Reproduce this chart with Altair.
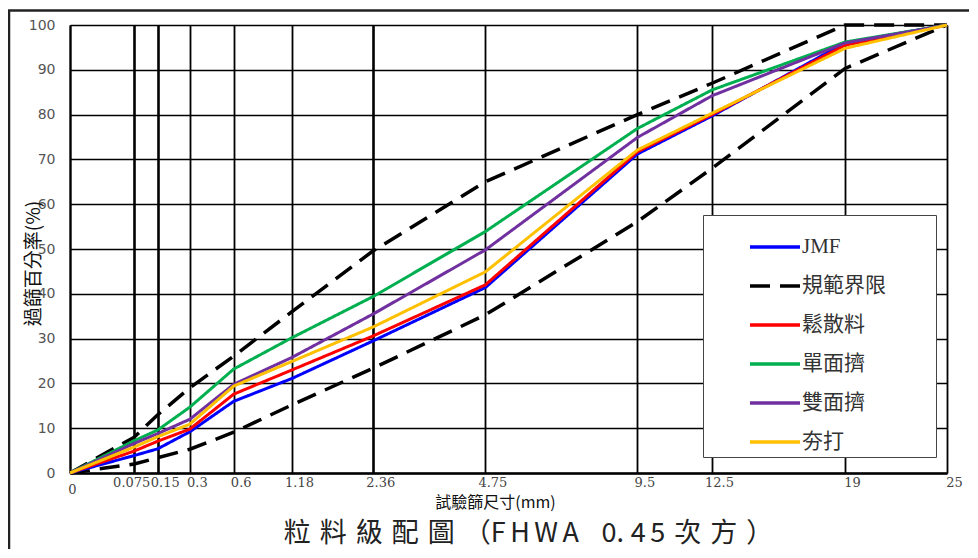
import altair as alt
import pandas as pd

# ---------------- data ----------------
sieves = [0, 0.075, 0.15, 0.3, 0.6, 1.18, 2.36, 4.75, 9.5, 12.5, 19, 25]
tick_values = [0, 0.075, 0.15, 0.3, 0.6, 1.18, 2.36, 4.75, 9.5, 12.5, 19, 25]
y_ticks = [0, 10, 20, 30, 40, 50, 60, 70, 80, 90, 100]

series_names = ["JMF", "規範界限", "鬆散料", "單面擠", "雙面擠", "夯打"]
series_colors = ["#0000FF", "#000000", "#FF0000", "#00B050", "#7030A0", "#FFC000"]
series_dashes = [[1, 0], [20, 10], [1, 0], [1, 0], [1, 0], [1, 0]]

upper_limit = [0, 8.0, 13.0, 19.0, 26.1, 36.0, 49.6, 65.0, 80.0, 87.0, 100, 100]
lower_limit = [0, 2.0, 3.4, 5.3, 9.1, 15.2, 23.4, 35.3, 56.1, 68.0, 90.3, 100]

jmf = [0, 3.9, 5.4, 9.2, 16.0, 21.1, 29.5, 41.4, 71.2, 79.7, 96.0, 100]
loose = [0, 4.9, 7.1, 9.8, 17.6, 23.0, 30.6, 42.0, 71.7, 80.0, 95.5, 100]
single_side = [0, 7.2, 9.6, 14.7, 23.2, 30.2, 39.4, 53.9, 76.9, 85.5, 96.2, 100]
double_side = [0, 6.6, 8.8, 12.0, 19.8, 25.8, 35.5, 49.8, 74.9, 84.2, 96.0, 100]
tamped = [0, 5.8, 8.1, 10.9, 19.4, 24.9, 32.6, 44.9, 72.1, 80.3, 94.8, 100]

limit_rows = []
for part, vals in [("upper", upper_limit), ("lower", lower_limit)]:
    for s, v in zip(sieves, vals):
        limit_rows.append({"sieve": s, "pass": v, "series": "規範界限", "part": part})
limits_df = pd.DataFrame(limit_rows)

grade_rows = []
for name, vals in [("JMF", jmf), ("鬆散料", loose), ("單面擠", single_side),
                   ("雙面擠", double_side), ("夯打", tamped)]:
    for s, v in zip(sieves, vals):
        grade_rows.append({"sieve": s, "pass": v, "series": name})
grades_df = pd.DataFrame(grade_rows)

W, H = 877, 448
CJK = "Noto Sans CJK TC"

xscale = alt.Scale(type="pow", exponent=0.45, domain=[0, 25], nice=False, zero=True)
yscale = alt.Scale(domain=[0, 100], nice=False)

xaxis = alt.Axis(
    values=tick_values, title="試驗篩尺寸(mm)",
    titleFont=CJK, titleFontSize=16, titleFontWeight="normal", titleColor="#111",
    titleX=425, titleY=29, titleBaseline="middle", titleAlign="center",
    labelFont="DejaVu Serif", labelFontSize=13, labelColor="#444",
    labelExpr="format(datum.value, '')",
    labelOverlap=False, labelFlush=False, labelBound=False, labelAlign="center",
    labelOffset={"condition": [{"test": "datum.value == 0.075", "value": -3},
                               {"test": "datum.value == 0", "value": 2}], "value": 7},
    labelPadding={"condition": {"test": "datum.value == 0", "value": 10}, "value": 3},
    ticks=False, grid=True, gridColor="#000",
    gridWidth={"condition": {"test": "datum.value == 0.075 || datum.value == 0.15 || datum.value == 2.36",
                             "value": 2.6}, "value": 1.8},
    domain=True, domainColor="#000", domainWidth=2.5,
)
yaxis = alt.Axis(
    values=y_ticks, title="過篩百分率(%)",
    titleFont=CJK, titleFontSize=19, titleFontWeight="normal", titleColor="#111",
    titleX=-37, titleY=238, titleAngle=270, titleBaseline="middle", titleAlign="center",
    labelFont="DejaVu Sans", labelFontSize=14, labelColor="#555", labelPadding=15,
    ticks=False, grid=True, gridColor="#000", gridWidth=1.6,
    domain=True, domainColor="#000", domainWidth=2,
)

legend = alt.Legend(
    title=".", titleOrient="right", titleOpacity=0, titleFontSize=2, titlePadding=44,
    orient="none", legendX=633, legendY=190,
    fillColor="white", strokeColor="#444", padding=5,
    symbolType="stroke", symbolSize=2500, symbolStrokeWidth=3.5,
    symbolOffset=40, labelOffset=0, rowPadding=2,
    labelFont="Liberation Serif, " + CJK, labelFontSize=21, labelColor="#333",
    labelLimit=0,
)

color = alt.Color("series:N", scale=alt.Scale(domain=series_names, range=series_colors),
                  legend=legend, sort=series_names)
dash = alt.StrokeDash("series:N", scale=alt.Scale(domain=series_names, range=series_dashes),
                      legend=legend, sort=series_names)

limits = alt.Chart(limits_df).mark_line(strokeWidth=3.5, strokeCap="butt").encode(
    x=alt.X("sieve:Q", scale=xscale, axis=xaxis),
    y=alt.Y("pass:Q", scale=yscale, axis=yaxis),
    color=color, strokeDash=dash, detail="part:N",
)

grades = alt.Chart(grades_df).mark_line(strokeWidth=3).encode(
    x=alt.X("sieve:Q", scale=xscale, axis=xaxis),
    y=alt.Y("pass:Q", scale=yscale, axis=yaxis),
    color=color, strokeDash=dash,
)

frame_df = pd.DataFrame({"k": [0]})
frame_left = alt.Chart(frame_df).mark_rule(color="#222", strokeWidth=2.5, clip=False).encode(
    x=alt.value(-61), y=alt.value(-15), y2=alt.value(H + 90))
frame_top = alt.Chart(frame_df).mark_rule(color="#222", strokeWidth=2.5, clip=False).encode(
    x=alt.value(-62), x2=alt.value(W + 60), y=alt.value(-14.5))

title_text = ("粒\u2004料\u2004級\u2004配\u2004圖\u2004（"
              "F\u2006H\u2006W\u2006A\u2002\u2004"
              "0.\u20054\u20065\u2004次\u2004方\u2004）")

chart = alt.layer(frame_left, frame_top, limits, grades).properties(
    width=W, height=H,
    padding={"left": 62, "top": 17, "right": 22, "bottom": 76},
    autosize=alt.AutoSizeParams(type="none"),
    title=alt.TitleParams(
        text=title_text,
        orient="bottom", anchor="middle", font=CJK, fontSize=27,
        fontWeight="normal", color="#222", offset=0, dy=-43, dx=20,
    ),
).configure_view(stroke="#000", strokeWidth=2).configure(background="white")

chart.save("out.html", embed_options={"renderer": "svg", "actions": False})
